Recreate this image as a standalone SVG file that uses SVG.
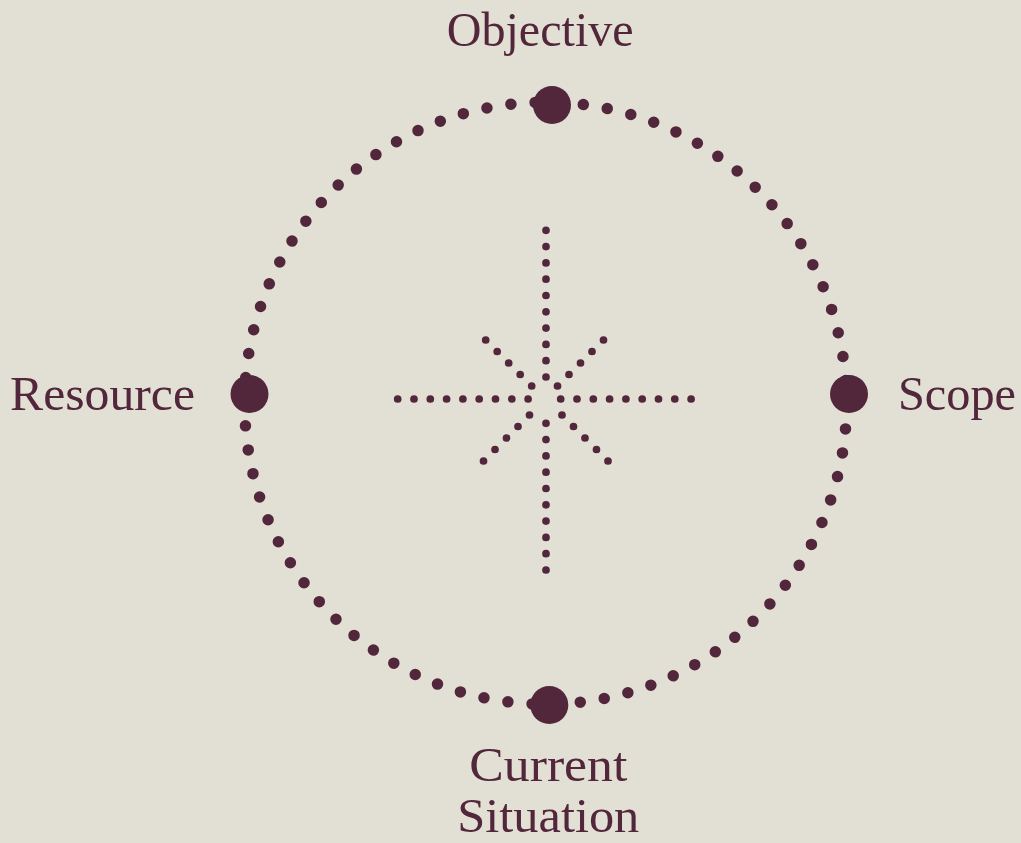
<svg xmlns="http://www.w3.org/2000/svg" width="1021" height="843" viewBox="0 0 1021 843">
  <style>
    .ring { fill: none; stroke: #52263b; stroke-width: 11.5; stroke-linecap: round; stroke-dasharray: 0 1; }
    .ray { fill: none; stroke: #52263b; stroke-width: 7.7; stroke-linecap: round; }
    .hub { fill: #52263b; }
    .lbl { font-family: "Liberation Serif", "DejaVu Serif", serif; font-size: 49px; fill: #52263b; }
  </style>
  <rect x="0" y="0" width="1021" height="843" fill="#e2dfd4"/>
  <g id="connectors">
    <circle class="ring" cx="545.6" cy="403.2" r="301" pathLength="78" transform="rotate(0.29 545.6 403.2)"/>
    <g id="star">
      <line class="ray" x1="546" y1="230.3" x2="546" y2="377.2" stroke-dasharray="0 16.3"/>
      <line class="ray" x1="546" y1="423.3" x2="546" y2="570.2" stroke-dasharray="0 16.3"/>
      <line class="ray" x1="397.7" y1="399" x2="528.3" y2="399" stroke-dasharray="0 16.3"/>
      <line class="ray" x1="560.7" y1="399" x2="691.3" y2="399" stroke-dasharray="0 16.3"/>
      <line class="ray" x1="485.7" y1="340" x2="531.8" y2="386.1" stroke-dasharray="0 16.26"/>
      <line class="ray" x1="603.5" y1="340" x2="557.4" y2="386.1" stroke-dasharray="0 16.26"/>
      <line class="ray" x1="529.5" y1="415" x2="483.4" y2="461.1" stroke-dasharray="0 16.26"/>
      <line class="ray" x1="562" y1="415" x2="608.1" y2="461.1" stroke-dasharray="0 16.26"/>
    </g>
  </g>
  <g id="node-objective">
    <circle class="hub" cx="552" cy="105" r="19"/>
    <text class="lbl" x="446.7" y="46" textLength="187" lengthAdjust="spacingAndGlyphs">Objective</text>
  </g>
  <g id="node-scope">
    <circle class="hub" cx="849" cy="394" r="19"/>
    <text class="lbl" x="898" y="410" textLength="118" lengthAdjust="spacingAndGlyphs">Scope</text>
  </g>
  <g id="node-current-situation">
    <circle class="hub" cx="549.3" cy="705" r="19"/>
    <text class="lbl" x="469.3" y="781" textLength="158" lengthAdjust="spacingAndGlyphs">Current</text>
    <text class="lbl" x="457.3" y="832" textLength="182" lengthAdjust="spacingAndGlyphs">Situation</text>
  </g>
  <g id="node-resource">
    <circle class="hub" cx="249.5" cy="394" r="19"/>
    <text class="lbl" x="10" y="409.5" textLength="185" lengthAdjust="spacingAndGlyphs">Resource</text>
  </g>
</svg>
